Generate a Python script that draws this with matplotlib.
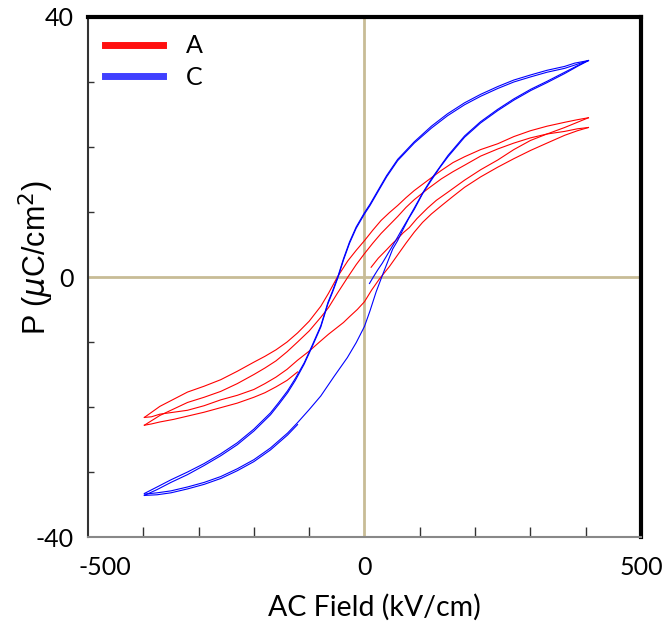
import numpy as np
import matplotlib.pyplot as plt
import matplotlib.transforms as mtransforms
from matplotlib.lines import Line2D
from matplotlib.ticker import MultipleLocator

# ---- data (E in kV/cm, P in uC/cm^2) ----
# Sample A (red): virgin curve, two descending and two ascending branches
a_virgin_e = [12, 25, 40, 50, 60, 70, 81, 95, 114, 130, 150, 181, 210, 241,
              270, 300, 330, 362, 385, 405]
a_virgin_p = [1.5, 2.9, 4.2, 5.1, 5.9, 6.8, 7.6, 9.0, 10.6, 11.8, 13.0, 14.9,
              16.5, 18.0, 19.6, 21.0, 22.0, 23.0, 23.8, 24.5]

a_desc_e = [405, 385, 362, 330, 300, 270, 241, 210, 181, 160, 139, 115, 90,
            75, 60, 45, 30, 15, 0, -15, -30, -49, -65, -79, -100, -121, -140,
            -160, -180, -200, -230, -260, -290, -320, -345, -370, -398]
a_desc1_p = [24.5, 24.2, 23.8, 23.2, 22.5, 21.6, 20.5, 19.6, 18.5, 17.6,
             16.4, 14.9, 13.3, 12.2, 11.0, 9.9, 8.7, 7.2, 5.6, 4.1, 2.5, 0.0,
             -2.5, -4.5, -6.8, -8.6, -10.0, -11.2, -12.2, -13.1, -14.5,
             -15.8, -16.8, -17.7, -18.8, -19.9, -21.6]
a_desc2_p = [23.0, 22.8, 22.4, 22.0, 21.4, 20.6, 19.7, 18.6, 17.2, 16.2,
             15.1, 13.6, 11.9, 10.7, 9.3, 8.0, 6.7, 5.2, 3.6, 1.9, 0.0, -2.5,
             -4.7, -6.2, -8.3, -10.0, -11.5, -12.9, -14.0, -15.0, -16.4,
             -17.6, -18.5, -19.3, -20.3, -21.3, -22.8]

a_asc_e = [-398, -385, -370, -345, -320, -290, -260, -230, -200, -180, -160,
           -140, -121, -100, -80, -65, -50, -38, -27, -13, 0, 13, 27, 45, 60,
           75, 90, 105, 121, 141, 160, 181, 210, 241, 270, 301, 330, 362,
           385, 405]
a_asc1_p = [-21.6, -21.5, -21.1, -20.8, -20.5, -19.8, -18.9, -18.2, -17.3,
            -16.4, -15.4, -14.2, -12.8, -11.4, -9.9, -8.8, -7.8, -7.0, -6.1,
            -5.0, -3.8, -2.0, -0.3, 1.6, 3.4, 5.2, 6.9, 8.4, 9.7, 11.1, 12.4,
            13.8, 15.4, 16.9, 18.2, 19.5, 20.6, 21.8, 22.5, 23.0]
a_asc2_e = [-398, -385, -370, -345, -320, -290, -260, -230, -200, -180,
            -160, -140, -121]
a_asc2_p = [-22.8, -22.6, -22.3, -21.9, -21.4, -20.8, -20.1, -19.4, -18.5,
            -17.8, -16.9, -15.9, -14.6]

# Sample C (blue)
c_virgin_e = [9, 16, 24, 32, 39, 48, 57, 69, 80, 90, 105, 121, 136, 151,
              181, 210, 241, 270, 301, 330, 362, 385, 405]
c_virgin_p = [-1.0, 0.0, 1.1, 2.1, 3.1, 4.4, 5.7, 7.5, 9.1, 10.6, 12.9,
              15.1, 16.9, 18.7, 21.7, 23.9, 25.8, 27.4, 28.9, 30.1, 31.5,
              32.5, 33.3]

c_desc_e = [405, 380, 362, 330, 301, 270, 241, 210, 181, 150, 121, 90, 60,
            40, 27, 10, 0, -15, -27, -38, -48, -58, -66, -79, -95, -109,
            -125, -139, -155, -170, -200, -230, -260, -290, -320, -350,
            -375, -398]
c_desc1_p = [33.3, 32.9, 32.4, 31.8, 31.1, 30.3, 29.3, 28.1, 26.8, 25.1,
             23.2, 20.8, 18.1, 15.6, 13.7, 11.2, 9.9, 7.7, 5.4, 2.8, 0.1,
             -2.2, -3.9, -7.5, -10.6, -13.2, -15.6, -17.5, -19.3, -20.9,
             -23.4, -25.5, -27.2, -28.7, -30.0, -31.2, -32.3, -33.3]
c_desc2_p = [33.3, 32.6, 32.1, 31.5, 30.8, 30.0, 29.0, 27.8, 26.5, 24.8,
             22.9, 20.6, 17.9, 15.4, 13.5, 11.0, 9.7, 7.5, 5.2, 2.6, -0.1,
             -2.4, -4.1, -7.7, -10.8, -13.4, -15.9, -17.8, -19.6, -21.2,
             -23.7, -25.8, -27.5, -29.0, -30.4, -31.6, -32.7, -33.6]

c_asc_e = [-398, -375, -350, -320, -290, -260, -230, -200, -170, -139, -121,
           -100, -79, -55, -31, -15, 0, 10, 21, 33, 45, 51, 60, 69, 80, 90,
           105, 121, 136, 151, 181, 210, 241, 270, 301, 330, 362, 385, 405]
c_asc1_p = [-33.4, -33.2, -32.9, -32.3, -31.6, -30.7, -29.5, -28.1, -26.3,
            -24.0, -22.4, -20.4, -18.3, -15.3, -12.4, -10.1, -7.6, -5.2,
            -2.3, 0.4, 3.0, 4.3, 5.6, 7.2, 9.0, 10.4, 12.8, 14.9, 16.8,
            18.5, 21.5, 23.7, 25.6, 27.2, 28.7, 29.9, 31.3, 32.4, 33.3]
c_asc2_e = [-398, -375, -350, -320, -290, -260, -230, -200, -170, -139,
            -121]
c_asc2_p = [-33.6, -33.5, -33.2, -32.6, -31.9, -31.0, -29.8, -28.4, -26.6,
            -24.3, -22.7]

labels = ['A', 'C']
colors = ['#ff0000', '#0000ff']
legend_colors = ['#ff1010', '#4040ff']

fig = plt.figure(figsize=(6.7, 6.27), dpi=100)
ax = fig.add_axes([0.1313, 0.1435, 0.8254, 0.8294])

# zero lines
ax.axhline(0, color='#c8bc96', lw=2, zorder=1)
ax.axvline(0, color='#c8bc96', lw=2, zorder=1)

lw = 0.8
for e, p in [(a_virgin_e, a_virgin_p), (a_desc_e, a_desc1_p),
             (a_asc_e, a_asc1_p), (a_desc_e, a_desc2_p),
             (a_asc2_e, a_asc2_p)]:
    ax.plot(e, p, color=colors[0], lw=lw, zorder=3)
for e, p in [(c_virgin_e, c_virgin_p), (c_desc_e, c_desc1_p),
             (c_asc_e, c_asc1_p), (c_desc_e, c_desc2_p),
             (c_asc2_e, c_asc2_p)]:
    ax.plot(e, p, color=colors[1], lw=lw, zorder=3)

ax.set_xlim(-500, 500)
ax.set_ylim(-40, 40)
ax.set_xticks([-500, 0, 500])
ax.set_yticks([-40, 0, 40])
ax.xaxis.set_minor_locator(MultipleLocator(100))
ax.yaxis.set_minor_locator(MultipleLocator(10))

tick_font = dict(family='Lato', size=18)
ax.set_xticklabels(['-500', '0', '500'], fontdict=tick_font)
ax.set_yticklabels(['-40', '0', '40'], fontdict=tick_font)
ax.tick_params(axis='x', which='major', length=0, pad=14)
ax.tick_params(axis='y', which='major', length=0, pad=10)
ax.tick_params(axis='x', which='minor', direction='in', length=7,
               width=1, color='#333333')
ax.tick_params(axis='y', which='minor', direction='in', length=4,
               width=1, color='#333333')

# the "-500" label sits a little right of its tick in the reference
lbl = ax.get_xticklabels()[0]
lbl.set_transform(lbl.get_transform() +
                  mtransforms.ScaledTranslation(17 / 100, 0,
                                                fig.dpi_scale_trans))

for side in ['top', 'right']:
    ax.spines[side].set_linewidth(3)
    ax.spines[side].set_color('black')
ax.spines['left'].set_linewidth(1.5)
ax.spines['left'].set_color('#333333')
ax.spines['bottom'].set_linewidth(1.5)
ax.spines['bottom'].set_color('#888888')

fig.text(374 / 670, 1 - 607 / 627, 'AC Field (kV/cm)', family='Lato',
         size=20.5, ha='center', va='center')
fig.text(36 / 670, 1 - 258 / 627, r'P ($\mu$C/cm$^2$)',
         family='Liberation Sans', size=22, rotation=90,
         ha='center', va='center')

handles = [Line2D([], [], color=c, lw=5) for c in legend_colors]
ax.legend(handles, labels, loc='upper left', frameon=False,
          prop=dict(family='Lato', size=18), handlelength=2.3,
          handletextpad=0.9, labelspacing=0.35, borderaxespad=0.3,
          bbox_to_anchor=(0.0, 1.0))

fig.savefig('out.png', dpi=100)
